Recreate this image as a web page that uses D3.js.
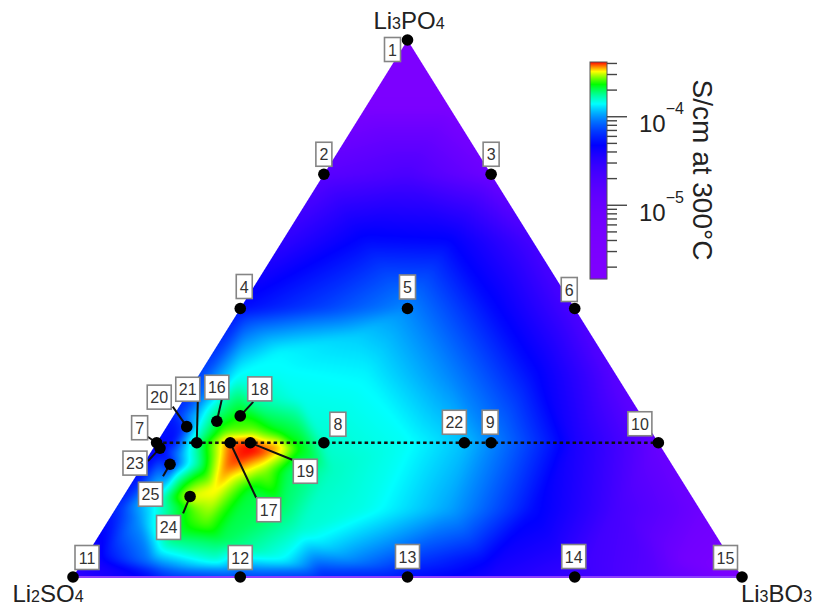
<!DOCTYPE html>
<html>
<head>
<meta charset="utf-8">
<script src="https://cdn.jsdelivr.net/npm/d3@7"></script>
<style>
  html, body { margin: 0; padding: 0; background: #fff; }
  svg { display: block; font-family: "Liberation Sans", Arial, Helvetica, sans-serif; }
</style>
</head>
<body>
<svg id="chart" width="814" height="607"></svg>
<script>
// ---------------------------------------------------------------
// Li2SO4 – Li3PO4 – Li3BO3 pseudo-ternary: ionic conductivity map
// Compositions are given as mole fractions of Li3PO4 (P) and
// Li3BO3 (B); the Li2SO4 fraction is 1 - P - B.
// ---------------------------------------------------------------

// Measured samples
const sampleId    = [1, 2, 3, 4, 5, 6, 7, 8, 9, 10, 11, 12, 13, 14, 15, 16, 17, 18, 19, 20, 21, 22, 23, 24, 25];
const sampleP     = [1, 0.75, 0.75, 0.5, 0.5, 0.5, 0.25, 0.25, 0.25, 0.25, 0, 0, 0, 0, 0, 0.29, 0.25, 0.30, 0.25, 0.28, 0.25, 0.25, 0.24, 0.15, 0.21];
const sampleB     = [0, 0, 0.25, 0, 0.25, 0.5, 0, 0.25, 0.5, 0.75, 0, 0.25, 0.5, 0.75, 1, 0.07, 0.11, 0.10, 0.14, 0.03, 0.06, 0.46, 0.01, 0.10, 0.04];
// conductivity at 300 °C, S/cm
const sampleSigma = [2e-6, 1.5e-5, 8e-6, 5e-5, 9.5e-5, 2e-5, 5e-5, 1.55e-4, 9.5e-5, 1e-5, 3e-5, 6e-5, 5e-5, 2.7e-5, 2e-6,
                     2.0e-4, 3.8e-4, 2.3e-4, 4.1e-4, 7e-5, 1.7e-4, 1.15e-4, 4.2e-5, 3.15e-4, 5e-5];

// Interpolated conductivity readings filling the rest of the map
const mapP = [
  0.875, 0.875, 0.75, 0.625, 0.625, 0.625, 0.625, 0.5, 0.5,
  0.45, 0.45, 0.42, 0.375, 0.375, 0.375, 0.375, 0.375, 0.375, 0.375, 0.33, 0.33, 0.33, 0.30,
  0.2924, 0.27, 0.27, 0.27, 0.255, 0.2365, 0.242, 0.24, 0.227, 0.227, 0.2086, 0.199, 0.199, 0.20, 0.199,
  0.162, 0.162, 0.143, 0.106, 0.10, 0.069, 0.069, 0.0875,
  0.25, 0.25,
  0.125, 0.125, 0.125, 0.125, 0.125, 0.125, 0.125, 0.125,
  0.03, 0.03, 0.03, 0.03, 0.03, 0.03, 0.03, 0.03, 0.03,
  0, 0, 0, 0
];
const mapB = [
  0, 0.125, 0.125, 0, 0.125, 0.25, 0.375, 0.125, 0.375,
  0.03, 0.20, 0.10, 0, 0.125, 0.25, 0.375, 0.5, 0.625, 0.06, 0.02, 0.10, 0.174, 0,
  0.0436, 0.092, 0.137, 0.174, 0.025, 0.164, 0.185, 0.219, 0.1435, 0.046, 0.086, 0.128, 0.187, 0.22, 0.285,
  0.131, 0.1835, 0.058, 0.047, 0.15, 0.11, 0.185, 0.2955,
  0.375, 0.625,
  0, 0.125, 0.25, 0.375, 0.5, 0.625, 0.75, 0.875,
  0.02, 0.1, 0.2, 0.3, 0.4, 0.5, 0.6, 0.75, 0.9,
  0.125, 0.375, 0.625, 0.875
];
const mapSigma = [
  3e-6, 3e-6, 2e-5, 3e-5, 5e-5, 4.8e-5, 2.2e-5, 7e-5, 5e-5,
  9e-5, 1.2e-4, 1.35e-4, 6.5e-5, 1.4e-4, 1.35e-4, 9.5e-5, 5e-5, 1.5e-5, 1.4e-4, 8e-5, 1.7e-4, 1.45e-4, 5.5e-5,
  1.3e-4, 2.6e-4, 2.7e-4, 2.2e-4, 5e-5, 4.05e-4, 3.6e-4, 2.3e-4, 4.1e-4, 1.0e-4, 1.8e-4, 3.7e-4, 2.8e-4, 2.0e-4, 1.6e-4,
  3.3e-4, 2.1e-4, 1.5e-4, 1.0e-4, 2.6e-4, 1.8e-4, 2.0e-4, 1.55e-4,
  1.4e-4, 3.8e-5,
  5.5e-5, 2.7e-4, 1.9e-4, 1.45e-4, 1.05e-4, 5e-5, 2.2e-5, 8e-6,
  4e-5, 9e-5, 1.5e-4, 1.35e-4, 9.5e-5, 6.5e-5, 4.8e-5, 2.5e-5, 6e-6,
  5e-5, 5.5e-5, 3.8e-5, 1.5e-5
];

// Colour bar
const sigmaRange  = [1.45e-6, 4.1e-4];
const majorTicks  = [1e-5, 1e-4];
const majorExp    = ["\u22125", "\u22124"];
const minorTicks  = [2e-6, 3e-6, 4e-6, 5e-6, 6e-6, 7e-6, 8e-6, 9e-6,
                     2e-5, 3e-5, 4e-5, 5e-5, 6e-5, 7e-5, 8e-5, 9e-5,
                     2e-4, 3e-4, 4e-4];
const barTitle    = "S/cm at 300\u00b0C";

// Corner components: [text, subscript] pieces
const cornerTop   = [["Li", false], ["3", true], ["PO", false], ["4", true]];
const cornerLeft  = [["Li", false], ["2", true], ["SO", false], ["4", true]];
const cornerRight = [["Li", false], ["3", true], ["BO", false], ["3", true]];

// Series of samples sharing 25 mol% Li3PO4
const tieP = 0.25, tieB = [0, 0.75];

// ---------------------------------------------------------------
// Layout
// ---------------------------------------------------------------
const W = 814, H = 607;
const svg = d3.select("#chart");

// ternary -> screen
const xs = d3.scaleLinear().domain([0, 1]).range([73, 742]);
const ys = d3.scaleLinear().domain([0, 1]).range([577, 40]);
const px = (p, b) => xs(b + p / 2);
const py = (p) => ys(p);

// label box placement relative to each sample (box centre, leader anchor)
const labelLayout = {
  1: [-15, 9.5], 2: [0, -20], 3: [0, -20], 4: [4, -22], 5: [0, -21.5], 6: [-5.5, -19],
  7: [-17, -15, -9, -6], 8: [14, -18.5], 9: [-1, -20.5], 10: [-18.5, -19],
  11: [14, -19.5], 12: [0, -19.5], 13: [0, -20.5], 14: [-1, -20.5], 15: [-16.5, -19.5],
  16: [0, -34, 5, -22], 17: [38.5, 67, 26, 55], 18: [19.5, -27, 13, -14], 19: [55, 28.5, 42, 17],
  20: [-27.5, -29.5, -14, -20], 21: [-9, -53.5, 1, -41], 22: [-10, -20.5],
  23: [-25, 15, -12, 13], 24: [-21.5, 31, -7, 17], 25: [-19.5, 30, -7, 12]
};

// colour: hue runs linearly with conductivity, violet -> red
const hue = d3.scaleLinear().domain(sigmaRange).range([270, 0]).clamp(true);
const colorOf = s => d3.hsl(hue(s), 1, 0.5).rgb();

// ---------------------------------------------------------------
// Conductivity surface (triangulated, lightly smoothed raster)
// ---------------------------------------------------------------
const allP = sampleP.concat(mapP);
const allB = sampleB.concat(mapB);
const allS = sampleSigma.concat(mapSigma);
const pts = allP.map((p, i) => [px(p, allB[i]), py(p)]);
const delaunay = d3.Delaunay.from(pts);

const val = new Float32Array(W * H);
const msk = new Float32Array(W * H);
const tri = delaunay.triangles;
for (let t = 0; t < tri.length; t += 3) {
  const a = tri[t], b = tri[t + 1], c = tri[t + 2];
  const [x0, y0] = pts[a], [x1, y1] = pts[b], [x2, y2] = pts[c];
  const den = (y1 - y2) * (x0 - x2) + (x2 - x1) * (y0 - y2);
  if (Math.abs(den) < 1e-6) continue;
  const minX = Math.max(0, Math.floor(Math.min(x0, x1, x2)));
  const maxX = Math.min(W - 1, Math.ceil(Math.max(x0, x1, x2)));
  const minY = Math.max(0, Math.floor(Math.min(y0, y1, y2)));
  const maxY = Math.min(H - 1, Math.ceil(Math.max(y0, y1, y2)));
  for (let yy = minY; yy <= maxY; yy++) {
    const cy = yy + 0.5;
    for (let xx = minX; xx <= maxX; xx++) {
      const cx = xx + 0.5;
      const l0 = ((y1 - y2) * (cx - x2) + (x2 - x1) * (cy - y2)) / den;
      const l1 = ((y2 - y0) * (cx - x2) + (x0 - x2) * (cy - y2)) / den;
      const l2 = 1 - l0 - l1;
      if (l0 < -1e-9 || l1 < -1e-9 || l2 < -1e-9) continue;
      const k = yy * W + xx;
      val[k] = l0 * allS[a] + l1 * allS[b] + l2 * allS[c];
      msk[k] = 1;
    }
  }
}

// normalised box blur (weights only from covered pixels)
function blur(arr, r) {
  const tmp = new Float32Array(arr.length);
  const n = 2 * r + 1;
  for (let y = 0; y < H; y++) {
    const row = y * W;
    let s = 0;
    for (let x = -r; x <= r; x++) s += arr[row + Math.min(W - 1, Math.max(0, x))];
    for (let x = 0; x < W; x++) {
      tmp[row + x] = s / n;
      s += arr[row + Math.min(W - 1, x + r + 1)] - arr[row + Math.max(0, x - r)];
    }
  }
  for (let x = 0; x < W; x++) {
    let s = 0;
    for (let y = -r; y <= r; y++) s += tmp[Math.min(H - 1, Math.max(0, y)) * W + x];
    for (let y = 0; y < H; y++) {
      arr[y * W + x] = s / n;
      s += tmp[Math.min(H - 1, y + r + 1) * W + x] - tmp[Math.max(0, y - r) * W + x];
    }
  }
}
const wv = new Float32Array(W * H);
for (let k = 0; k < W * H; k++) wv[k] = val[k] * msk[k];
for (let i = 0; i < 2; i++) { blur(wv, 4); blur(msk, 4); }

// colour lookup
const LUT_N = 1024;
const lut = d3.range(LUT_N).map(i => colorOf(sigmaRange[0] + (sigmaRange[1] - sigmaRange[0]) * i / (LUT_N - 1)));
const lutIndex = d3.scaleLinear().domain(sigmaRange).range([0, LUT_N - 1]).clamp(true);

// triangle edges for anti-aliased clipping
const T = [px(1, 0), py(1)], L = [px(0, 0), py(0)], R = [px(0, 1), py(0)];
function edgeFn(p0, p1, inside) {
  const dx = p1[0] - p0[0], dy = p1[1] - p0[1], len = Math.hypot(dx, dy);
  let nx = -dy / len, ny = dx / len;
  if ((inside[0] - p0[0]) * nx + (inside[1] - p0[1]) * ny < 0) { nx = -nx; ny = -ny; }
  return (x, y) => (x - p0[0]) * nx + (y - p0[1]) * ny;
}
const e1 = edgeFn(T, L, R), e2 = edgeFn(L, R, T), e3 = edgeFn(R, T, L);

const canvas = document.createElement("canvas");
canvas.width = W; canvas.height = H;
const ctx = canvas.getContext("2d");
const img = ctx.createImageData(W, H);
for (let yy = 0; yy < H; yy++) {
  for (let xx = 0; xx < W; xx++) {
    const cx = xx + 0.5, cy = yy + 0.5;
    const d = Math.min(e1(cx, cy), e2(cx, cy), e3(cx, cy));
    if (d < -0.5) continue;
    const k = yy * W + xx;
    if (msk[k] <= 0) continue;
    const s = wv[k] / msk[k];
    const c = lut[Math.round(lutIndex(s))];
    const o = k * 4;
    img.data[o] = c.r; img.data[o + 1] = c.g; img.data[o + 2] = c.b;
    img.data[o + 3] = Math.round(255 * Math.max(0, Math.min(1, d + 0.5)));
  }
}
ctx.putImageData(img, 0, 0);
svg.append("image").attr("x", 0).attr("y", 0).attr("width", W).attr("height", H)
  .attr("href", canvas.toDataURL());

// thin violet rim along the Li2SO4–Li3BO3 side
svg.append("line")
  .attr("x1", L[0] + 4).attr("x2", R[0] - 4).attr("y1", L[1]).attr("y2", R[1])
  .attr("stroke", "#8c3cff").attr("stroke-width", 2);

// ---------------------------------------------------------------
// Tie line, sample markers and labels
// ---------------------------------------------------------------
svg.append("line")
  .attr("x1", px(tieP, tieB[0])).attr("y1", py(tieP))
  .attr("x2", px(tieP, tieB[1])).attr("y2", py(tieP))
  .attr("stroke", "#111").attr("stroke-width", 2.6).attr("stroke-dasharray", "3.5,3");

const samples = sampleId.map((id, i) => ({ id, x: px(sampleP[i], sampleB[i]), y: py(sampleP[i]) }));

// leaders
svg.append("g").selectAll("line")
  .data(samples.filter(d => labelLayout[d.id].length > 2))
  .join("line")
  .attr("x1", d => d.x).attr("y1", d => d.y)
  .attr("x2", d => d.x + labelLayout[d.id][2]).attr("y2", d => d.y + labelLayout[d.id][3])
  .attr("stroke", "#111").attr("stroke-width", 2);

svg.append("g").selectAll("circle")
  .data(samples)
  .join("circle")
  .attr("cx", d => d.x).attr("cy", d => d.y).attr("r", 5.8)
  .attr("fill", "#000");

const boxes = svg.append("g").selectAll("g")
  .data(samples)
  .join("g")
  .attr("transform", d => `translate(${d.x + labelLayout[d.id][0]},${d.y + labelLayout[d.id][1]})`);
boxes.append("rect")
  .attr("x", d => (String(d.id).length > 1 ? -12 : -8))
  .attr("width", d => (String(d.id).length > 1 ? 24 : 16))
  .attr("y", -12).attr("height", 24)
  .attr("fill", "#fff").attr("stroke", "#858585").attr("stroke-width", 1.6);
boxes.append("text")
  .attr("text-anchor", "middle").attr("y", 6)
  .attr("font-size", 16).attr("fill", "#333")
  .text(d => d.id);

// corner labels
function cornerLabel(parts, x, y) {
  const t = svg.append("text").attr("x", x).attr("y", y)
    .attr("text-anchor", "middle").attr("font-size", 24).attr("fill", "#222");
  parts.forEach(([s, sub]) => t.append("tspan").attr("font-size", sub ? 16 : 24).text(s));
}
cornerLabel(cornerTop, 409, 29);
cornerLabel(cornerLeft, 48, 602);
cornerLabel(cornerRight, 776.5, 602);

// ---------------------------------------------------------------
// Colour bar
// ---------------------------------------------------------------
const bar = { x: 590, w: 17, top: 62, bottom: 279 };
const cb = d3.scaleLog().domain(sigmaRange).range([bar.bottom, bar.top]);
const cbg = svg.append("g");
cbg.selectAll("rect")
  .data(d3.range(bar.top, bar.bottom))
  .join("rect")
  .attr("x", bar.x).attr("width", bar.w)
  .attr("y", d => d).attr("height", 1.2)
  .attr("fill", d => colorOf(cb.invert(d + 0.5)));
cbg.append("rect")
  .attr("x", bar.x).attr("y", bar.top).attr("width", bar.w).attr("height", bar.bottom - bar.top)
  .attr("fill", "none").attr("stroke", "#555").attr("stroke-width", 1);

const axMinor = svg.append("g").attr("transform", `translate(${bar.x + bar.w},0)`)
  .call(d3.axisRight(cb).tickValues(minorTicks).tickSize(10).tickFormat(""));
const axMajor = svg.append("g").attr("transform", `translate(${bar.x + bar.w},0)`)
  .call(d3.axisRight(cb).tickValues(majorTicks).tickSize(20).tickFormat(""));
[axMinor, axMajor].forEach(g => {
  g.select(".domain").remove();
  g.selectAll(".tick line").attr("stroke", "#444").attr("stroke-width", 1.4);
});

majorTicks.forEach((v, i) => {
  const t = svg.append("text").attr("x", 639).attr("y", cb(v) + 16)
    .attr("font-size", 24).attr("fill", "#222");
  t.append("tspan").text("10");
  t.append("tspan").attr("font-size", 16).attr("dy", -18).text(majorExp[i]);
});

svg.append("text")
  .attr("transform", "translate(693,170) rotate(90)")
  .attr("text-anchor", "middle").attr("font-size", 28).attr("fill", "#222")
  .text(barTitle);
</script>
</body>
</html>
